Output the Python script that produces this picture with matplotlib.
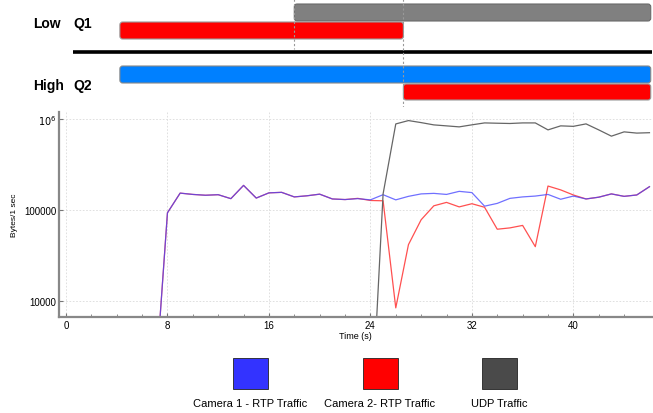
import numpy as np
import matplotlib
matplotlib.use("Agg")
from matplotlib import pyplot as plt
from matplotlib.patches import FancyBboxPatch, Rectangle

plt.rcParams['font.family'] = ['Liberation Sans', 'DejaVu Sans']

# traffic samples, one per second
t = list(range(7, 47))
cam1 = [1000, 93000, 153000, 148000, 145000, 147000, 133000, 186000, 135000, 154000,
        156000, 139000, 143000, 149000, 132000, 130000, 133000, 129000, 147000, 129000,
        141000, 150000, 152000, 148000, 160000, 155000, 110000, 118000, 134000, 139000,
        142000, 148000, 131000, 142000, 132000, 138000, 150000, 141000, 146000, 180000]
cam2 = [1000, 93000, 153000, 148000, 145000, 147000, 133000, 186000, 135000, 154000,
        156000, 139000, 143000, 149000, 132000, 130000, 134000, 127000, 126000, 8400,
        41600, 78000, 111000, 121000, 108000, 117000, 107000, 61400, 63500, 67600,
        39500, 183000, 166000, 146000, 132000, 138000, 150000, 141000, 146000, 180000]
udp_t = list(range(24, 47))
udp = [300, 150000, 880000, 958000, 910000, 859000, 838000, 817000, 860000, 903000,
       896000, 890000, 903000, 903000, 757000, 838000, 828000, 881000, 757000, 646000,
       720000, 698000, 705000]

# queue timeline bars (start, end) in seconds
q1_udp = (18, 46.1)
q1_cam2 = (4.25, 26.6)
q2_cam1 = (4.25, 46.1)
q2_cam2 = (26.6, 46.1)
switch_times = [18, 26.6]

W, H = 653, 414
fig = plt.figure(figsize=(W / 100, H / 100), dpi=100)
xlim = (-0.55, 46.2)

# ---- timeline on top ----
top = fig.add_axes([59 / W, 1 - 108 / H, 593 / W, 108 / H])
top.set_xlim(*xlim)
top.set_ylim(108, 0)
top.axis('off')
px = 593 / (xlim[1] - xlim[0])


def bar(ax, span, y0, y1, color, edge):
    p = FancyBboxPatch((span[0], y0), span[1] - span[0], y1 - y0,
                       boxstyle="round,pad=0,rounding_size=0.22",
                       mutation_aspect=px, fc=color, ec=edge, lw=0.8)
    ax.add_patch(p)


bar(top, q1_udp, 5, 22, '#808080', '#6a6a6a')
bar(top, q1_cam2, 23, 40, '#ff0000', '#999999')
bar(top, q2_cam1, 67, 84, '#0080ff', '#888888')
bar(top, q2_cam2, 85, 101, '#ff0000', '#999999')
top.plot([0.55, 46.2], [53, 53], color='black', lw=2.6, solid_capstyle='butt')
top.plot([switch_times[0]] * 2, [0, 50], color='#999999', lw=0.8, ls=(0, (2, 2)))
top.plot([switch_times[1]] * 2, [0, 108], color='#999999', lw=0.8, ls=(0, (2, 2)))
for lab, q, y in [('Low', 'Q1', 24), ('High', 'Q2', 86)]:
    top.text(-2.6, y, lab, fontsize=10, fontweight='bold', va='center', ha='left')
    top.text(0.6, y, q, fontsize=10, fontweight='bold', va='center', ha='left')

# ---- traffic plot ----
ax = fig.add_axes([59 / W, 1 - 318 / H, 593 / W, 205 / H])
ax.plot(t, cam2, color='#ff5050', lw=0.9)
ax.plot(t, cam1, color='#4040ff', lw=0.9, alpha=0.75)
ax.plot(udp_t, udp, color='#666666', lw=0.9)
ax.set_yscale('log')
ax.set_xlim(*xlim)
ax.set_ylim(6670, 1.19e6)
ax.set_xticks([0, 8, 16, 24, 32, 40])
ax.set_xticks(np.arange(2, 46, 2), minor=True)
ax.set_yticks([1e4, 1e5, 1e6], ['10000', '100000', r'$10^6$'])
ax.yaxis.set_minor_locator(matplotlib.ticker.NullLocator())
ax.tick_params(axis='both', which='major', labelsize=7, length=3, color='#777777',
               direction='in', pad=2)
ax.tick_params(axis='x', which='minor', length=2, color='#777777', direction='in')
ax.grid(True, which='major', color='#dadada', ls=(0, (2, 2)), lw=0.6)
for s in ['top', 'right']:
    ax.spines[s].set_visible(False)
for s in ['left', 'bottom']:
    ax.spines[s].set_color('#888888')
    ax.spines[s].set_linewidth(1.6)
ax.set_xlabel('Time (s)', fontsize=6.5, labelpad=1)
ax.set_ylabel('Bytes/1 sec', fontsize=6, labelpad=4)

# ---- legend ----
leg = [('Camera 1 - RTP Traffic', '#3333ff', 250),
       ('Camera 2- RTP Traffic', '#ff0000', 380),
       ('UDP Traffic', '#4a4a4a', 499)]
for name, c, xc in leg:
    fig.patches.append(Rectangle(((xc - 17.5) / W, 1 - 390 / H), 35 / W, 31 / H,
                                 transform=fig.transFigure, fc=c, ec='#222222', lw=0.6))
    fig.text(xc / W, 1 - 404 / H, name, fontsize=8, ha='center', va='center')

fig.savefig('out.png', dpi=100)
